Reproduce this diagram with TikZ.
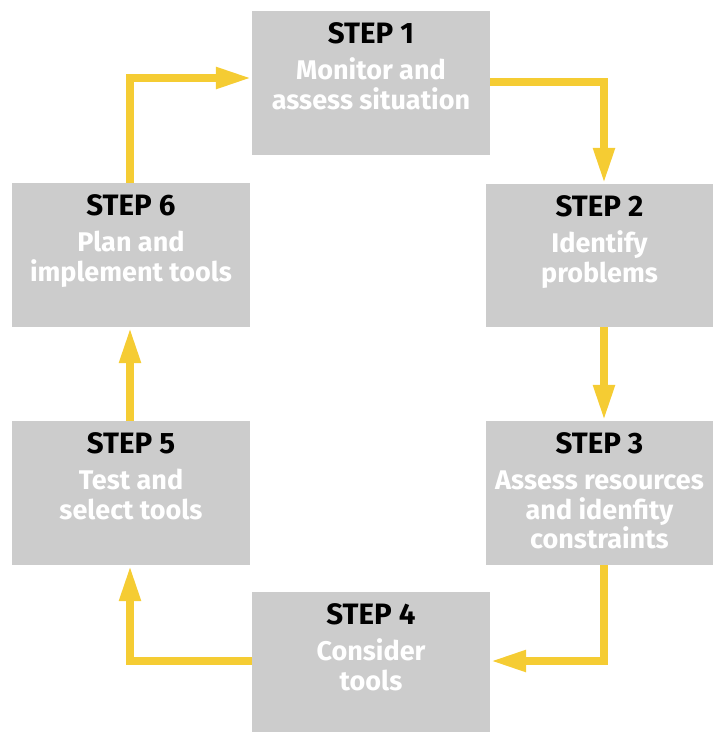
\documentclass[tikz,border=0pt]{standalone}
\usepackage{fontspec}
\setmainfont{Fira Sans}
\usetikzlibrary{arrows.meta}

\definecolor{boxgray}{HTML}{CCCCCC}
\definecolor{flowyellow}{HTML}{F5CC33}

\tikzset{
	stepbox/.style={fill=boxgray, minimum width=238pt, minimum height=144pt, inner sep=0pt},
	steptext/.style={anchor=north, inner sep=0pt, yshift=-12pt, align=center, text=white,
		font=\fontsize{27}{29.5}\selectfont\bfseries},
	flow/.style={flowyellow, line width=8pt, -{Triangle[length=36pt,width=20pt]}}
}
\newcommand{\stepno}[1]{\textcolor{black}{\fontsize{29.5}{29.5}\selectfont STEP #1}\\[6.5pt]}

\begin{document}
\begin{tikzpicture}[x=1pt,y=-1pt]
		\useasboundingbox (0,0) rectangle (713,732);

		%% boxes
		\node[stepbox, label={[steptext]north:{\stepno{1}Monitor and\\assess situation}}] at (371,83)(s1){};
		\node[stepbox, minimum width=227pt, minimum height=143pt,
			label={[steptext]north:{\stepno{2}Identify\\problems}}] at (599.5,255.5)(s2){};
		\node[stepbox, minimum width=227pt,
			label={[steptext]north:{\stepno{3}Assess resources\\and idenfity\\constraints}}] at (599.5,493)(s3){};
		\node[stepbox, minimum height=140pt,
			label={[steptext]north:{\stepno{4}Consider\\tools}}] at (371,662)(s4){};
		\node[stepbox, label={[steptext]north:{\stepno{5}Test and\\select tools}}] at (131,493)(s5){};
		\node[stepbox, label={[steptext]north:{\stepno{6}Plan and\\implement tools}}] at (131,255)(s6){};

		%% corners
		\coordinate (c12) at (604,82);
		\coordinate (c34) at (604,661);
		\coordinate (c45) at (130,661);
		\coordinate (c61) at (130,78);

		%% arrows
		\draw[flow] (s1.east |- c12) -- (c12) -- (c12 |- s2.north);
		\draw[flow] (c12 |- s2.south) -- (c12 |- s3.north);
		\draw[flow] (c34 |- s3.south) -- (c34) -- (s4.east |- c34);
		\draw[flow] (s4.west |- c45) -- (c45) -- (c45 |- s5.south);
		\draw[flow] (c45 |- s5.north) -- (c45 |- s6.south);
		\draw[flow] (c61 |- s6.north) -- (c61) -- (s1.west |- c61);
	\end{tikzpicture}
\end{document}
